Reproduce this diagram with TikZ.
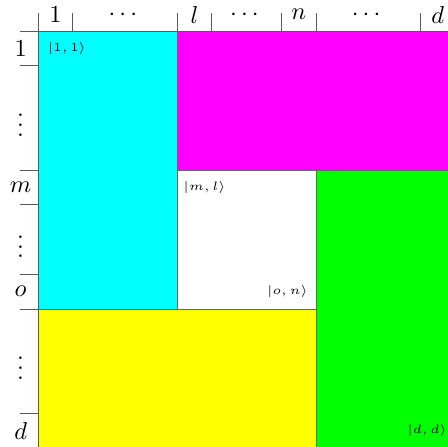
\documentclass[tikz,border=0pt]{standalone}
\usepackage{amsmath, amssymb}
\usetikzlibrary{positioning}
\definecolor{qcyan}{RGB}{0,255,255}
\definecolor{qmagenta}{RGB}{255,0,255}
\definecolor{qgreen}{RGB}{0,255,0}
\definecolor{qyellow}{RGB}{255,255,0}

\begin{document}
\begin{tikzpicture}[
    lab/.style={scale=2, inner sep=1pt},
    ket/.style={scale=2, font=\tiny, inner sep=1pt},
    blk/.style={draw=black!60, line width=0.8pt},
    tck/.style={draw=black!65, line width=0.8pt},
  ]
  \useasboundingbox (-1.094,0.892) rectangle (11.798,-11.971);
  \clip (-1.094,0.892) rectangle (11.798,-11.971);
  % ── Blöcke ──
  \foreach \xa/\ya/\xb/\yb/\col in {0/0/4/-8/qcyan, 4/0/12/-4/qmagenta,
      4/-4/8/-8/white, 8/-4/12/-12/qgreen, 0/-8/8/-12/qyellow}
    \filldraw[blk, fill=\col] (\xa,\ya) rectangle (\xb,\yb);
  % ── Achsen mit Strichen ──
  \draw[tck] (-0.52,0) -- (12,0);
  \draw[tck] (0,0.52) -- (0,-12);
  \foreach \t in {1,4,5,7,8,11,12} {
    \draw[tck] (\t,0) -- ++(0,0.52);
    \draw[tck] (0,-\t) -- ++(-0.52,0);
  }
  % ── Beschriftung ──
  \foreach \p/\txt [count=\i] in {0.5/1, 2.5/\cdots, 4.5/l, 6/\cdots,
      7.5/n, 9.5/\cdots, 11.5/d}
    \node[lab] (col\i) at (\p,0.47) {$\txt$};
  \foreach \p/\txt [count=\i] in {0.5/1, 2.5/\vdots, 4.5/m, 6/\vdots,
      7.5/o, 9.5/\vdots, 11.5/d}
    \node[lab] (row\i) at (-0.5,-\p) {$\txt$};
  \node[ket, anchor=west] (k11) at (0.2,-0.5)  {$|1,1\rangle$};
  \node[ket, anchor=west] (kml) at (4.1,-4.5)  {$|m,l\rangle$};
  \node[ket, anchor=east] (kon) at (7.85,-7.5) {$|o,n\rangle$};
  \node[ket, anchor=east] (kdd) at (11.85,-11.5) {$|d,d\rangle$};
\end{tikzpicture}
\end{document}
